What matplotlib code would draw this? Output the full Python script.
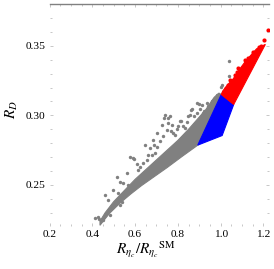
import numpy as np
import matplotlib
matplotlib.use('Agg')
import matplotlib.pyplot as plt
from matplotlib.ticker import MultipleLocator, FormatStrFormatter

plt.rcParams['font.family'] = ['Liberation Serif', 'DejaVu Serif']
plt.rcParams['mathtext.fontset'] = 'stix'

# dense gray band (boundary)
gray_band_x = [0.436, 0.48, 0.53, 0.58, 0.63, 0.69, 0.75, 0.82, 0.895,
               1.005, 0.992, 0.97, 0.93, 0.89, 0.85, 0.80, 0.75, 0.70,
               0.65, 0.60, 0.55, 0.50, 0.46, 0.436]
gray_band_y = [0.221, 0.2295, 0.237, 0.2435, 0.2495, 0.256, 0.2625, 0.2705, 0.2788,
               0.3148, 0.316, 0.313, 0.304, 0.297, 0.290, 0.282, 0.275, 0.268,
               0.261, 0.254, 0.246, 0.238, 0.230, 0.224]

# scattered gray points
gray_x = [1.038, 1.001, 1.009, 0.897, 0.937, 0.953, 0.865, 0.737, 0.761, 0.753,
          0.769, 0.817, 0.849, 0.921, 0.889, 0.969, 0.801, 0.833, 0.646, 0.670,
          0.576, 0.592, 0.561, 0.545, 0.498, 0.459, 0.475, 0.481, 0.529, 0.433,
          0.449, 0.537, 0.413, 0.428, 0.514, 0.529, 0.623, 0.654, 0.678, 0.693,
          0.701, 0.740, 0.755, 0.724, 0.771, 0.748, 0.810, 0.825, 0.888, 0.911,
          0.919, 0.701, 0.685, 1.039, 1.005, 0.593, 0.481,
          0.612, 0.635, 0.662, 0.715, 0.732, 0.786, 0.795, 0.842, 0.858, 0.874,
          0.905, 0.940, 0.958, 0.983, 0.568, 0.521, 0.607, 0.688, 0.778, 0.862]
gray_y = [0.339, 0.3203, 0.3166, 0.308, 0.3092, 0.3043, 0.3043, 0.298, 0.2994, 0.2944,
          0.289, 0.2956, 0.2994, 0.303, 0.3018, 0.3117, 0.292, 0.2908, 0.2788, 0.2764,
          0.2704, 0.2693, 0.2585, 0.2513, 0.2465, 0.2429, 0.2393, 0.233, 0.2355, 0.2257,
          0.2245, 0.238, 0.2261, 0.2273, 0.256, 0.2524, 0.2632, 0.268, 0.2716, 0.2729,
          0.2776, 0.3004, 0.298, 0.2932, 0.2932, 0.2896, 0.2956, 0.292, 0.3088, 0.3076,
          0.3016, 0.2872, 0.2824, 0.3286, 0.322, 0.2688, 0.2281,
          0.2605, 0.2655, 0.2712, 0.2815, 0.2855, 0.2862, 0.2905, 0.2952, 0.3005, 0.2992,
          0.3048, 0.3068, 0.3102, 0.3145, 0.2498, 0.2445, 0.2648, 0.2790, 0.2875, 0.3035]

# blue region
blue_x = [0.893, 1.007, 1.061, 1.003]
blue_y = [0.2786, 0.2855, 0.3078, 0.3150]

# dense red region
red_band_x = [1.003, 1.061, 1.209, 1.168, 1.140, 1.112, 1.084, 1.060, 1.033, 1.010]
red_band_y = [0.3150, 0.3078, 0.3510, 0.3478, 0.3430, 0.3380, 0.3322, 0.3265, 0.3220, 0.3175]

# scattered red points
red_x = [1.220, 1.202, 1.179, 1.164, 1.142, 1.114, 1.079, 1.075, 1.043, 1.036, 1.095,
         1.058, 1.128, 1.152, 1.188, 1.025, 1.068]
red_y = [0.3615, 0.3538, 0.3488, 0.3448, 0.3416, 0.3399, 0.334, 0.3315, 0.3256, 0.322, 0.3291,
         0.3227, 0.3412, 0.3455, 0.3495, 0.3195, 0.3288]

W, H = 274, 269
fig = plt.figure(figsize=(W / 100, H / 100), dpi=100)
ax = fig.add_axes([49.5 / W, 1 - 226 / H, (269 - 49.5) / W, (226 - 4) / H])

gray = '#808080'
ax.fill(gray_band_x, gray_band_y, color=gray, lw=0.8)
ax.scatter(gray_x, gray_y, s=6, color=gray, lw=0)
ax.fill(blue_x, blue_y, color='#0000ff', lw=0.8)
ax.fill(red_band_x, red_band_y, color='#ff0000', lw=0.8)
ax.scatter(red_x, red_y, s=9, color='#ff0000', lw=0)

ax.set_xlim(0.2, 1.226)
ax.set_ylim(0.2205, 0.380)

ax.xaxis.set_major_locator(MultipleLocator(0.2))
ax.xaxis.set_minor_locator(MultipleLocator(0.05))
ax.yaxis.set_major_locator(MultipleLocator(0.05))
ax.yaxis.set_minor_locator(MultipleLocator(0.01))
ax.xaxis.set_major_formatter(FormatStrFormatter('%.1f'))
ax.yaxis.set_major_formatter(FormatStrFormatter('%.2f'))

ax.tick_params(which='both', direction='in', top=True, right=True,
               color='#b0b0b0', width=0.5, labelsize=8.2, pad=3)
ax.tick_params(which='major', length=2.5)
ax.tick_params(which='minor', length=1.5)

for side in ['left', 'right', 'bottom']:
    ax.spines[side].set_visible(False)
ax.spines['top'].set_color(gray)
ax.spines['top'].set_linewidth(1.0)

fig.text(12 / W, 1 - 110 / H, r'$R_D$', rotation=90, fontsize=11,
         ha='center', va='center')
fig.text(146 / W, 1 - 250 / H, r'$R_{\eta_c}/R_{\eta_c}{}^{\mathrm{SM}}$',
         fontsize=11, ha='center', va='center')

fig.savefig('out.png', dpi=100)
